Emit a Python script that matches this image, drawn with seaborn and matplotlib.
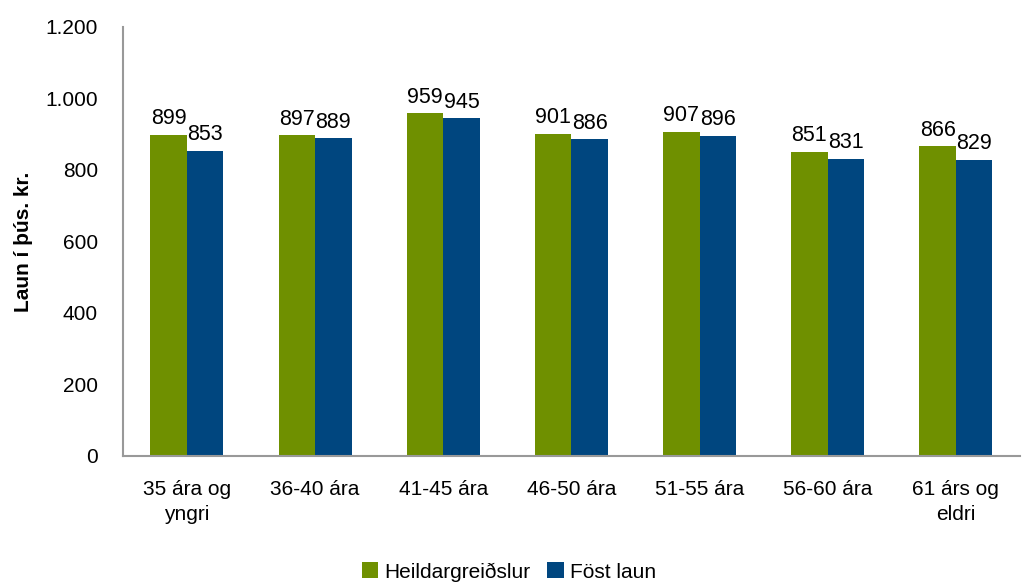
import pandas as pd
import matplotlib.pyplot as plt
import seaborn as sns

categories = ["35 ára og\nyngri", "36-40 ára", "41-45 ára", "46-50 ára",
              "51-55 ára", "56-60 ára", "61 árs og\neldri"]
heildar = [899, 897, 959, 901, 907, 851, 866]
fost = [853, 889, 945, 886, 896, 831, 829]
series = ["Heildargreiðslur", "Föst laun"]
colors = ["#6f9000", "#00467f"]

df = pd.DataFrame({
    "Aldur": categories * 2,
    "Laun": heildar + fost,
    "Tegund": [series[0]] * len(categories) + [series[1]] * len(categories),
})

sns.set_theme(style="white", rc={"text.color": "black", "axes.labelcolor": "black",
                                 "xtick.color": "black", "ytick.color": "black"})
plt.rcParams['font.family'] = ['Liberation Sans', 'DejaVu Sans']

fig = plt.figure(figsize=(10.24, 5.86), dpi=100)
ax = fig.add_axes([0.120, 0.222, 0.876, 0.732])

sns.barplot(data=df, x="Aldur", y="Laun", hue="Tegund", palette=colors,
            width=0.57, saturation=1, linewidth=0, ax=ax)

for cont in ax.containers:
    ax.bar_label(cont, fmt="%d", padding=4, fontsize=15.5, color="black")

ax.set_ylim(0, 1200)
ax.set_yticks(range(0, 1201, 200))
ax.set_yticklabels([f"{v:,}".replace(",", ".") for v in range(0, 1201, 200)])
ax.tick_params(axis="both", labelsize=15, length=0, labelcolor="black")
ax.tick_params(axis="y", pad=18)
ax.tick_params(axis="x", pad=17)
for lbl in ax.get_xticklabels():
    lbl.set_linespacing(1.45)
ax.set_xlabel("")
ax.set_ylabel("Laun í þús. kr.", fontsize=15, fontweight="bold", labelpad=9,
              color="black")

for s in ["top", "right"]:
    ax.spines[s].set_visible(False)
for s in ["left", "bottom"]:
    ax.spines[s].set_color("#999999")
    ax.spines[s].set_linewidth(1.5)

handles, labels = ax.get_legend_handles_labels()
ax.legend_.remove()
fig.legend(handles, labels, loc="center", bbox_to_anchor=(0.497, 0.024), ncol=2,
           frameon=False, fontsize=15, handlelength=0.8, handleheight=0.8,
           handletextpad=0.3, columnspacing=0.8)

fig.savefig("out.png", dpi=100)
